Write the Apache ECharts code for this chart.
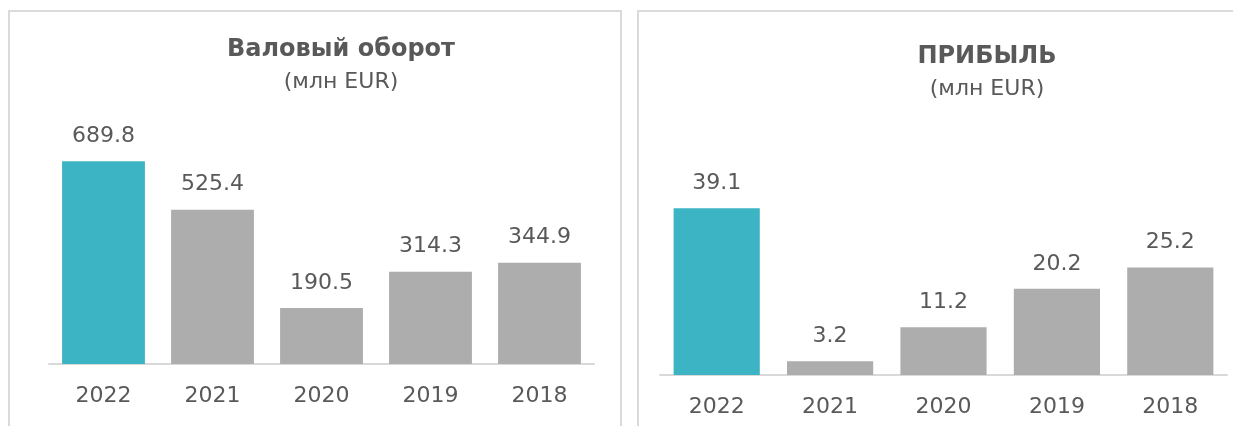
<!DOCTYPE html>
<html>
<head>
<meta charset="utf-8">
<script src="https://cdn.jsdelivr.net/npm/echarts@6/dist/echarts.min.js"></script>
<style>
  html, body { margin: 0; padding: 0; background: #fff; overflow: hidden; width: 1233px; height: 426px; }
  .panel { position: absolute; top: 10px; border: 2px solid #dadada; height: 440px; }
  #left { left: 8px; width: 610px; }
  #right { left: 637px; width: 700px; border-right: none; }
</style>
</head>
<body>
<div id="left" class="panel"></div>
<div id="right" class="panel"></div>
<script>
var years = ['2022', '2021', '2020', '2019', '2018']
var turnover = [689.8, 525.4, 190.5, 314.3, 344.9]
var profit = [39.1, 3.2, 11.2, 20.2, 25.2]

var textColor = '#595959'
var fontFamily = '"DejaVu Sans", sans-serif'

function barColors(values) {
  // highlight the latest year
  return values.map(function (v, i) {
    return {
      value: v,
      itemStyle: { color: i === 0 ? '#3cb4c3' : '#adadad' }
    }
  })
}

function makeOption(cfg) {
  return {
    animation: false,
    textStyle: { fontFamily: fontFamily },
    title: [{
      text: cfg.title,
      left: cfg.titleX,
      top: cfg.titleTop,
      textAlign: 'center',
      textStyle: { color: textColor, fontSize: 24, fontWeight: 'bold', fontFamily: fontFamily }
    }, {
      text: '(млн EUR)',
      left: cfg.titleX,
      top: cfg.titleTop + 33,
      textAlign: 'center',
      textStyle: { color: textColor, fontSize: 22, fontWeight: 'normal', fontFamily: fontFamily }
    }],
    grid: {
      left: cfg.gridLeft,
      top: cfg.gridTop,
      width: cfg.gridWidth,
      height: cfg.gridHeight
    },
    xAxis: {
      type: 'category',
      data: years,
      axisLine: { show: true, lineStyle: { color: '#d9d9d9', width: 2 } },
      axisTick: { show: false },
      axisLabel: { color: textColor, fontSize: 22, margin: 21, fontFamily: fontFamily }
    },
    yAxis: {
      type: 'value',
      min: 0,
      max: cfg.max,
      show: false,
      splitLine: { show: false }
    },
    series: [{
      type: 'bar',
      barWidth: '76%',
      data: barColors(cfg.data),
      label: {
        show: true,
        position: 'top',
        distance: 14,
        color: textColor,
        fontSize: 22,
        fontFamily: fontFamily,
        formatter: function (p) { return p.value.toFixed(1) }
      }
    }]
  }
}

var leftChart = echarts.init(document.getElementById('left'))
leftChart.setOption(makeOption({
  title: 'Валовый оборот',
  titleX: 326,
  titleTop: 21,
  gridLeft: 39,
  gridTop: 117,
  gridWidth: 545,
  gridHeight: 235,
  max: 800,
  data: turnover
}))

var rightChart = echarts.init(document.getElementById('right'))
rightChart.setOption(makeOption({
  title: 'ПРИБЫЛЬ',
  titleX: 343,
  titleTop: 28,
  gridLeft: 21,
  gridTop: 171,
  gridWidth: 567,
  gridHeight: 192,
  max: 45,
  data: profit
}))
</script>
</body>
</html>
